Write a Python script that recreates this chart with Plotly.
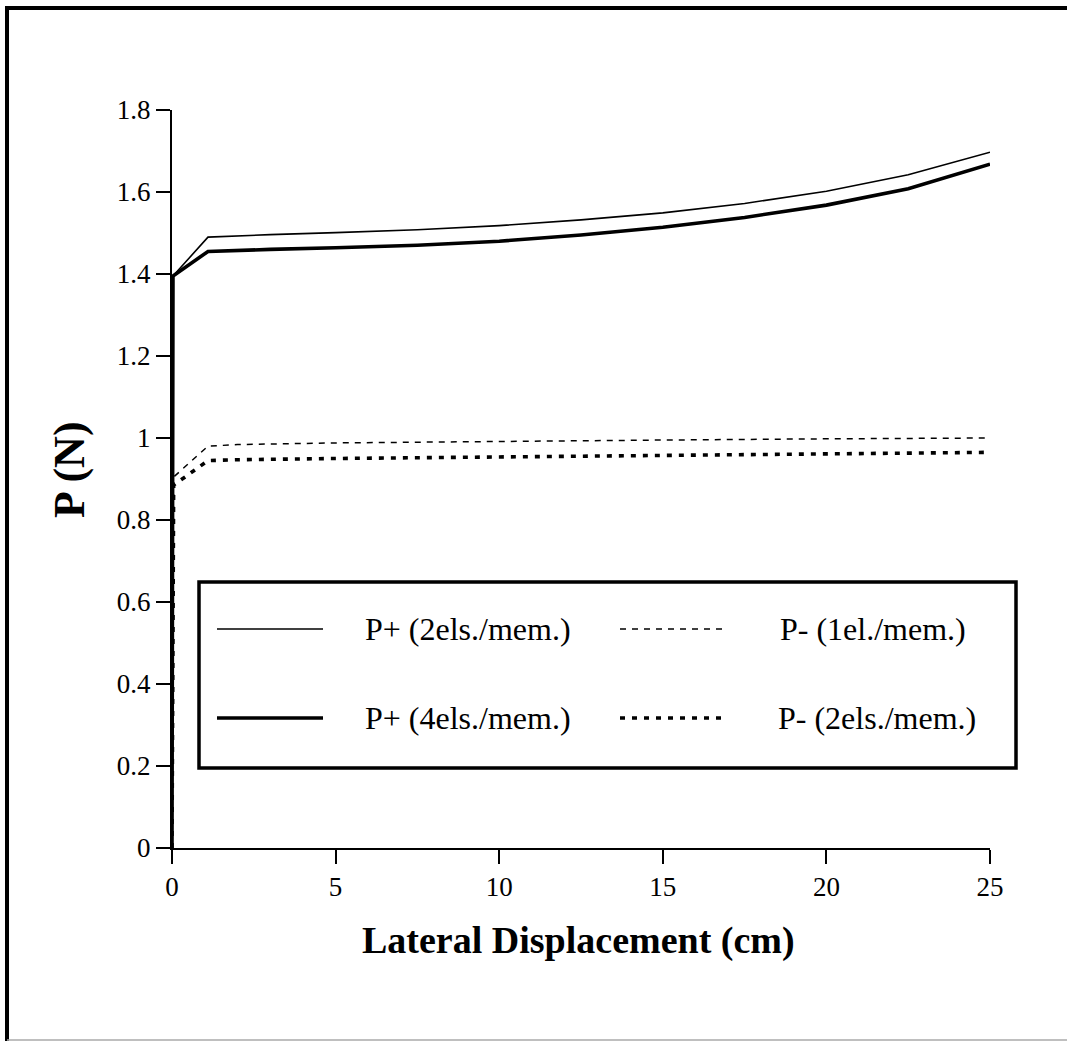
import plotly.graph_objects as go

# ---- data ----
x_p2 = [0, 0.03, 1.1, 2, 3, 5, 7.5, 10, 12.5, 15, 17.5, 20, 22.5, 25]
y_p2 = [0, 1.395, 1.490, 1.493, 1.496, 1.501, 1.508, 1.518, 1.532, 1.549, 1.572, 1.602, 1.642, 1.697]

x_p4 = [0, 0.03, 1.1, 2, 3, 5, 7.5, 10, 12.5, 15, 17.5, 20, 22.5, 25]
y_p4 = [0, 1.395, 1.455, 1.458, 1.460, 1.464, 1.470, 1.480, 1.495, 1.514, 1.538, 1.568, 1.608, 1.668]

x_m1 = [0, 0.05, 1.1, 2, 5, 10, 15, 20, 25]
y_m1 = [0, 0.905, 0.980, 0.984, 0.988, 0.992, 0.995, 0.998, 1.000]

x_m2 = [0, 0.05, 1.1, 2, 5, 10, 15, 20, 25]
y_m2 = [0, 0.885, 0.945, 0.947, 0.950, 0.954, 0.957, 0.961, 0.965]

y_ticks = [0, 0.2, 0.4, 0.6, 0.8, 1.0, 1.2, 1.4, 1.6, 1.8]
y_tick_labels = ["0", "0.2", "0.4", "0.6", "0.8", "1", "1.2", "1.4", "1.6", "1.8"]
x_ticks = [0, 5, 10, 15, 20, 25]
x_tick_labels = ["0", "5", "10", "15", "20", "25"]

legend_names = ["P+ (2els./mem.)", "P- (1el./mem.)", "P+ (4els./mem.)", "P- (2els./mem.)"]

W, H = 1067, 1041
# plot area in screen pixels of the reference
L, R, T, B = 172, 990, 110, 848
FONT = "Liberation Serif, Times New Roman, serif"


def px(xp):
    return (xp - L) / (R - L)


def py(yp):
    return (B - yp) / (B - T)


styles = [
    dict(color="black", width=1.6, dash="solid"),
    dict(color="black", width=1.5, dash="6px,6px"),
    dict(color="black", width=3.6, dash="solid"),
    dict(color="black", width=3.6, dash="5px,7px"),
]

fig = go.Figure()
series = [(x_p2, y_p2, 0), (x_m1, y_m1, 1), (x_p4, y_p4, 2), (x_m2, y_m2, 3)]
for xs, ys, i in series:
    fig.add_trace(go.Scatter(x=xs, y=ys, mode="lines", line=dict(**styles[i]),
                             name=legend_names[i], showlegend=False, cliponaxis=False))

shapes = []
annotations = []
# outer frame
shapes.append(dict(type="line", xref="paper", yref="paper", x0=px(7), x1=px(7), y0=py(6), y1=py(1045),
                   line=dict(color="black", width=4)))
shapes.append(dict(type="line", xref="paper", yref="paper", x0=px(5), x1=px(1075), y0=py(8), y1=py(8),
                   line=dict(color="black", width=4)))
shapes.append(dict(type="line", xref="paper", yref="paper", x0=px(7), x1=px(1075), y0=py(1040), y1=py(1040),
                   line=dict(color="#aaaaaa", width=1.5)))

# legend box
shapes.append(dict(type="rect", xref="paper", yref="paper", x0=px(199), x1=px(1016), y0=py(582), y1=py(768),
                   line=dict(color="black", width=3.5), fillcolor="white", layer="above"))
leg_pos = [(217, 323, 629, 468), (620, 726, 629, 873), (217, 323, 718, 468), (620, 726, 718, 877)]
for i, (x0, x1, yy, tx) in enumerate(leg_pos):
    st = styles[i]
    shapes.append(dict(type="line", xref="paper", yref="paper", x0=px(x0), x1=px(x1), y0=py(yy), y1=py(yy),
                       line=dict(color="black", width=st["width"], dash=st["dash"]), layer="above"))
    annotations.append(dict(text=legend_names[i], xref="paper", yref="paper", x=px(tx), y=py(yy),
                            showarrow=False, xanchor="center", yanchor="middle",
                            font=dict(family=FONT, size=32, color="black")))

annotations.append(dict(text="<b>Lateral Displacement (cm)</b>", xref="paper", yref="paper",
                        x=px(578), y=py(940), showarrow=False, xanchor="center", yanchor="middle",
                        font=dict(family=FONT, size=38, color="black")))
annotations.append(dict(text="<b>P (N)</b>", xref="paper", yref="paper", textangle=-90,
                        x=px(69), y=py(470), showarrow=False, xanchor="center", yanchor="middle",
                        font=dict(family=FONT, size=44, color="black")))

fig.update_layout(
    width=W, height=H,
    margin=dict(l=L, r=W - R, t=T, b=H - B, pad=0),
    paper_bgcolor="white", plot_bgcolor="white",
    shapes=shapes, annotations=annotations,
    font=dict(family=FONT, size=27, color="black"),
)
fig.update_xaxes(range=[0, 25], tickvals=x_ticks, ticktext=x_tick_labels, showgrid=False, zeroline=False,
                 showline=True, linecolor="black", linewidth=2, ticks="outside", ticklen=14, tickwidth=2,
                 tickcolor="black", tickfont=dict(family=FONT, size=27, color="black"))
fig.update_yaxes(range=[0, 1.8], tickvals=y_ticks, ticktext=y_tick_labels, showgrid=False, zeroline=False,
                 showline=True, linecolor="black", linewidth=2, ticks="outside", ticklen=14, tickwidth=2,
                 tickcolor="black", tickfont=dict(family=FONT, size=27, color="black"))

fig.write_html("out.html", config={"displayModeBar": False},
               post_script="document.body.style.margin='0px';document.body.style.overflow='hidden';")
